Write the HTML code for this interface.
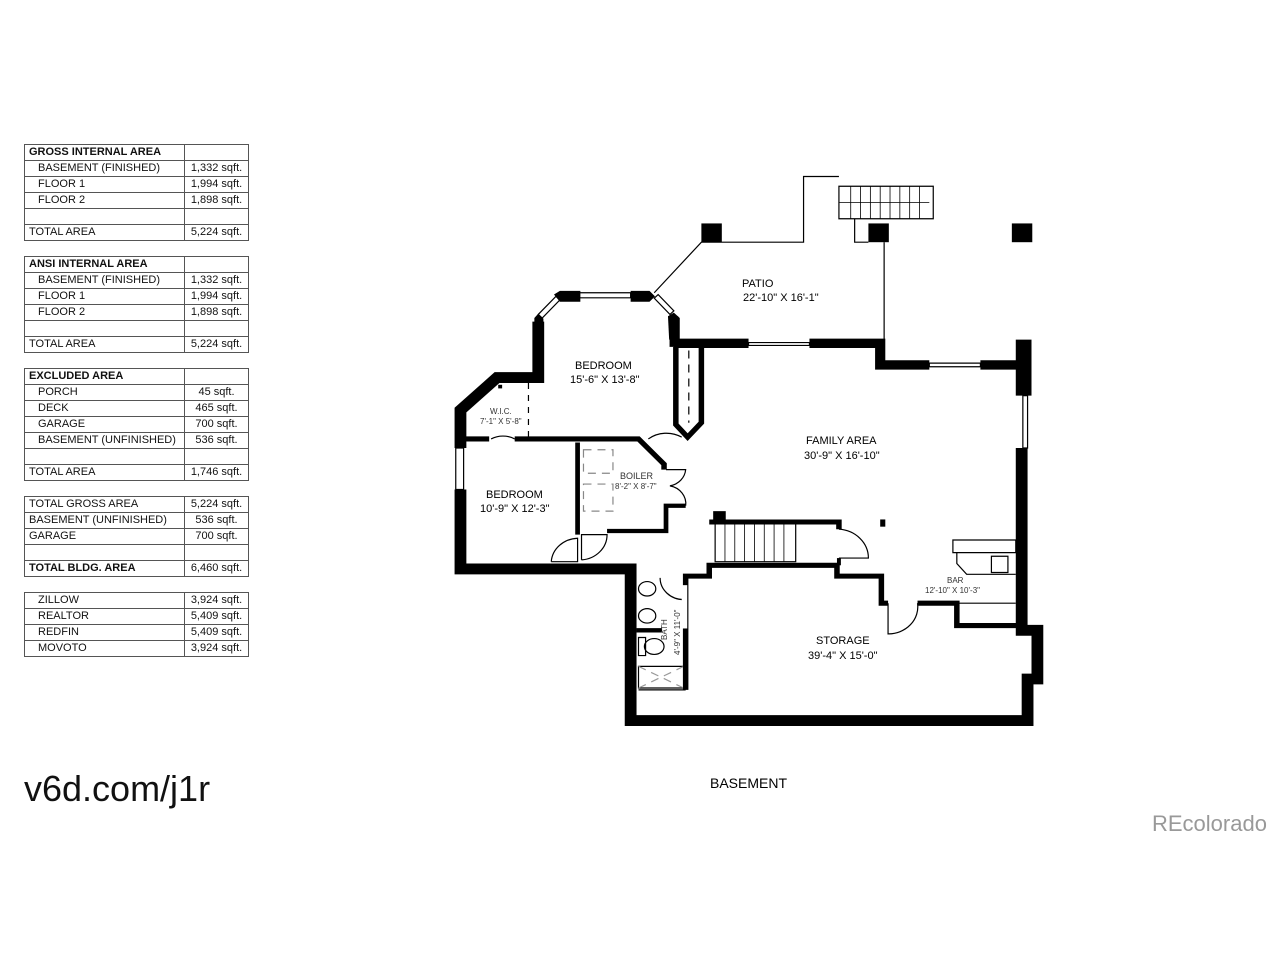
<!DOCTYPE html>
<html><head><meta charset="utf-8"><style>
html,body{margin:0;padding:0;background:#fff;width:1280px;height:960px;overflow:hidden;position:relative;font-family:"Liberation Sans",sans-serif;}
table{position:absolute;left:24px;width:225px;border-collapse:collapse;font-size:11px;color:#111;}
td{border:1px solid #555;height:15px;padding:0 0 0 4px;line-height:15px;white-space:nowrap;}
td.v{width:63px;text-align:center;padding:0;}
td.i{padding-left:13px;}
tr.h td:first-child{font-weight:bold;}
svg{position:absolute;left:0;top:0;}
.t{position:absolute;white-space:nowrap;}
</style></head><body>
<table style="top:144px">
<tr class="h"><td>GROSS INTERNAL AREA</td><td class="v"></td></tr>
<tr><td class="i">BASEMENT (FINISHED)</td><td class="v">1,332 sqft.</td></tr>
<tr><td class="i">FLOOR 1</td><td class="v">1,994 sqft.</td></tr>
<tr><td class="i">FLOOR 2</td><td class="v">1,898 sqft.</td></tr>
<tr><td></td><td class="v"></td></tr>
<tr><td>TOTAL AREA</td><td class="v">5,224 sqft.</td></tr>
</table>
<table style="top:256px">
<tr class="h"><td>ANSI INTERNAL AREA</td><td class="v"></td></tr>
<tr><td class="i">BASEMENT (FINISHED)</td><td class="v">1,332 sqft.</td></tr>
<tr><td class="i">FLOOR 1</td><td class="v">1,994 sqft.</td></tr>
<tr><td class="i">FLOOR 2</td><td class="v">1,898 sqft.</td></tr>
<tr><td></td><td class="v"></td></tr>
<tr><td>TOTAL AREA</td><td class="v">5,224 sqft.</td></tr>
</table>
<table style="top:368px">
<tr class="h"><td>EXCLUDED AREA</td><td class="v"></td></tr>
<tr><td class="i">PORCH</td><td class="v">45 sqft.</td></tr>
<tr><td class="i">DECK</td><td class="v">465 sqft.</td></tr>
<tr><td class="i">GARAGE</td><td class="v">700 sqft.</td></tr>
<tr><td class="i">BASEMENT (UNFINISHED)</td><td class="v">536 sqft.</td></tr>
<tr><td></td><td class="v"></td></tr>
<tr><td>TOTAL AREA</td><td class="v">1,746 sqft.</td></tr>
</table>
<table style="top:496px">
<tr><td>TOTAL GROSS AREA</td><td class="v">5,224 sqft.</td></tr>
<tr><td>BASEMENT (UNFINISHED)</td><td class="v">536 sqft.</td></tr>
<tr><td>GARAGE</td><td class="v">700 sqft.</td></tr>
<tr><td></td><td class="v"></td></tr>
<tr><td style="font-weight:bold">TOTAL BLDG. AREA</td><td class="v">6,460 sqft.</td></tr>
</table>
<table style="top:592px">
<tr><td class="i">ZILLOW</td><td class="v">3,924 sqft.</td></tr>
<tr><td class="i">REALTOR</td><td class="v">5,409 sqft.</td></tr>
<tr><td class="i">REDFIN</td><td class="v">5,409 sqft.</td></tr>
<tr><td class="i">MOVOTO</td><td class="v">3,924 sqft.</td></tr>
</table>

<svg width="1280" height="960" viewBox="0 0 1280 960">
<g transform="translate(442,170) scale(0.393,0.361)">
<g fill="none" stroke="#000" stroke-width="1.2" vector-effect="non-scaling-stroke">
<polyline points="540,340 660,200 920,200 920,18 1010,18" vector-effect="non-scaling-stroke"/>
<polyline points="1050,135 1050,200 1085,200" vector-effect="non-scaling-stroke"/>
<line x1="1125" y1="200" x2="1125" y2="480" vector-effect="non-scaling-stroke"/>
<rect x="1010" y="45" width="240" height="90" vector-effect="non-scaling-stroke"/>
<rect x="695" y="980" width="205" height="105" vector-effect="non-scaling-stroke"/>
<rect x="350" y="340" width="130" height="14" vector-effect="non-scaling-stroke"/>
<rect x="780" y="478" width="155" height="8" vector-effect="non-scaling-stroke"/>
<rect x="1240" y="535" width="130" height="10" vector-effect="non-scaling-stroke"/>
<rect x="1478" y="625" width="12" height="145" vector-effect="non-scaling-stroke"/>
<rect x="35" y="770" width="20" height="115" vector-effect="non-scaling-stroke"/>
<polygon points="245,400 255,410 300,360 290,350" vector-effect="non-scaling-stroke"/>
<polygon points="540,355 550,345 590,390 580,400" vector-effect="non-scaling-stroke"/>
<line x1="220" y1="590" x2="220" y2="745" stroke-dasharray="6 6" vector-effect="non-scaling-stroke"/>
<line x1="628" y1="500" x2="628" y2="700" stroke-dasharray="8 6" vector-effect="non-scaling-stroke"/>
<rect x="360" y="775" width="75" height="65" stroke="#888" stroke-dasharray="8 6" vector-effect="non-scaling-stroke"/>
<rect x="360" y="870" width="75" height="75" stroke="#888" stroke-dasharray="8 6" vector-effect="non-scaling-stroke"/>
<path d="M525,745 A75,75 0 0 1 610,740" vector-effect="non-scaling-stroke"/>
<path d="M570,830 L620,830 A50,50 0 0 1 580,875 A50,50 0 0 1 620,930" vector-effect="non-scaling-stroke"/>
<path d="M278,1085 L345,1085 L345,1020 A70,70 0 0 0 278,1085" vector-effect="non-scaling-stroke"/>
<path d="M355,1080 L355,1010 L420,1010 A70,70 0 0 1 355,1080" vector-effect="non-scaling-stroke"/>
<path d="M1010,995 A80,80 0 0 1 1085,1075 L1010,1075" vector-effect="non-scaling-stroke"/>
<path d="M1135,1200 L1135,1285 A75,75 0 0 0 1210,1200" vector-effect="non-scaling-stroke"/>
<path d="M555,1130 A60,60 0 0 0 615,1190" vector-effect="non-scaling-stroke"/>
<path d="M125,745 A60,60 0 0 1 185,745" vector-effect="non-scaling-stroke"/>
<rect x="1300" y="1025" width="160" height="35" vector-effect="non-scaling-stroke"/>
<polyline points="1310,1060 1310,1090 1335,1120 1460,1120" vector-effect="non-scaling-stroke"/>
<rect x="1398" y="1070" width="42" height="45" vector-effect="non-scaling-stroke"/>
<line x1="1310" y1="1200" x2="1460" y2="1200" vector-effect="non-scaling-stroke"/>
<ellipse cx="522" cy="1160" rx="22" ry="20" vector-effect="non-scaling-stroke"/>
<ellipse cx="522" cy="1235" rx="22" ry="20" vector-effect="non-scaling-stroke"/>
<ellipse cx="540" cy="1320" rx="25" ry="22" vector-effect="non-scaling-stroke"/>
<rect x="500" y="1295" width="18" height="50" vector-effect="non-scaling-stroke"/>
<rect x="500" y="1375" width="115" height="60" vector-effect="non-scaling-stroke"/>
<path d="M500,1375 L615,1435 M615,1375 L500,1435" stroke="#999" stroke-dasharray="8 6" vector-effect="non-scaling-stroke"/>
<line x1="500" y1="1440" x2="620" y2="1440" vector-effect="non-scaling-stroke"/>
</g>
<g stroke="#000">
<path d="M1040,45V135M1065,45V135M1090,45V135M1115,45V135M1140,45V135M1165,45V135M1190,45V135M1215,45V135M1010,90H1240" stroke-width="0.8" vector-effect="non-scaling-stroke"/>
<path d="M720,980V1085M745,980V1085M770,980V1085M795,980V1085M820,980V1085M845,980V1085M870,980V1085" stroke-width="0.8" vector-effect="non-scaling-stroke"/>
</g>
<g fill="#000">
<rect x="660" y="148" width="52" height="52"/>
<rect x="1085" y="148" width="52" height="52"/>
<rect x="1450" y="148" width="52" height="52"/>
<rect x="1115" y="968" width="13" height="20"/>
<rect x="690" y="945" width="32" height="32"/>
<polygon points="285,345 300,335 352,335 352,365 300,365"/>
<polygon points="480,335 528,335 542,350 528,365 480,365"/>
<polygon points="575,405 590,395 605,410 605,470 578,470"/>
<polygon points="235,410 245,398 258,412 258,575 235,575"/>
</g>
<g fill="none" stroke="#000" stroke-linejoin="miter">
<polyline stroke-width="30" points="47,885 47,1105 480,1105 480,1525 1490,1525 1490,1410 1515,1410 1515,1275 1475,1275 1475,770"/>
<polyline stroke-width="30" points="47,770 47,665 140,575 245,575 245,420"/>
<line stroke-width="40" x1="1480" y1="470" x2="1480" y2="625"/>
<polyline stroke-width="26" points="590,480 780,480"/>
<polyline stroke-width="26" points="935,480 1115,480 1115,540 1240,540"/>
<polyline stroke-width="26" points="1370,540 1480,540"/>
<polyline stroke-width="22" points="590,405 590,490"/>
<polyline stroke-width="14" points="595,490 595,705 625,740 660,700 660,490"/>
<polyline stroke-width="14" points="60,745 120,745"/>
<polyline stroke-width="14" points="185,745 500,745 565,815 565,830"/>
<polyline stroke-width="10" points="148,595 148,605"/>
<polyline stroke-width="12" points="345,755 345,1010"/>
<polyline stroke-width="12" points="420,1000 570,1000 570,930 620,930"/>
<polyline stroke-width="14" points="680,975 1010,975 1010,995"/>
<polyline stroke-width="14" points="620,1440 620,1125 680,1125 680,1095 1005,1095 1005,1125 1118,1125 1118,1200 1135,1200"/>
<polyline stroke-width="14" points="1210,1200 1310,1200 1310,1262 1475,1262"/>
<polyline stroke-width="12" points="495,1275 560,1275"/>
<polyline stroke-width="10" points="1010,1075 1010,1095"/>
</g>
<rect x="610" y="1150" width="14" height="120" fill="#fff"/>
</g>
</svg>

<div class="t" style="left:742px;top:278px;font-size:11px;">PATIO</div>
<div class="t" style="left:743px;top:292px;font-size:11px;">22'-10" X 16'-1"</div>
<div class="t" style="left:575px;top:360px;font-size:11px;">BEDROOM</div>
<div class="t" style="left:570px;top:374px;font-size:11px;">15'-6" X 13'-8"</div>
<div class="t" style="left:490px;top:407px;font-size:8px;color:#333;">W.I.C.</div>
<div class="t" style="left:480px;top:417px;font-size:8px;color:#333;">7'-1" X 5'-8"</div>
<div class="t" style="left:806px;top:435px;font-size:11px;">FAMILY AREA</div>
<div class="t" style="left:804px;top:450px;font-size:11px;">30'-9" X 16'-10"</div>
<div class="t" style="left:620px;top:471px;font-size:9px;color:#333;">BOILER</div>
<div class="t" style="left:615px;top:482px;font-size:8px;color:#333;">8'-2" X 8'-7"</div>
<div class="t" style="left:486px;top:489px;font-size:11px;">BEDROOM</div>
<div class="t" style="left:480px;top:503px;font-size:11px;">10'-9" X 12'-3"</div>
<div class="t" style="left:947px;top:576px;font-size:8px;color:#333;">BAR</div>
<div class="t" style="left:925px;top:586px;font-size:8px;color:#333;">12'-10" X 10'-3"</div>
<div class="t" style="left:816px;top:635px;font-size:11px;">STORAGE</div>
<div class="t" style="left:808px;top:650px;font-size:11px;">39'-4" X 15'-0"</div>
<div class="t" style="left:660px;top:640px;font-size:8px;color:#333;transform:rotate(-90deg);transform-origin:left top;">BATH</div>
<div class="t" style="left:673px;top:655px;font-size:8px;color:#333;transform:rotate(-90deg);transform-origin:left top;">4'-9" X 11'-0"</div>
<div class="t" style="left:710px;top:775px;font-size:14px;">BASEMENT</div>
<div class="t" style="left:24px;top:768px;font-size:36px;color:#111;">v6d.com/j1r</div>
<div class="t" style="left:1152px;top:811px;font-size:22px;color:#999;">REcolorado</div>
</body></html>
